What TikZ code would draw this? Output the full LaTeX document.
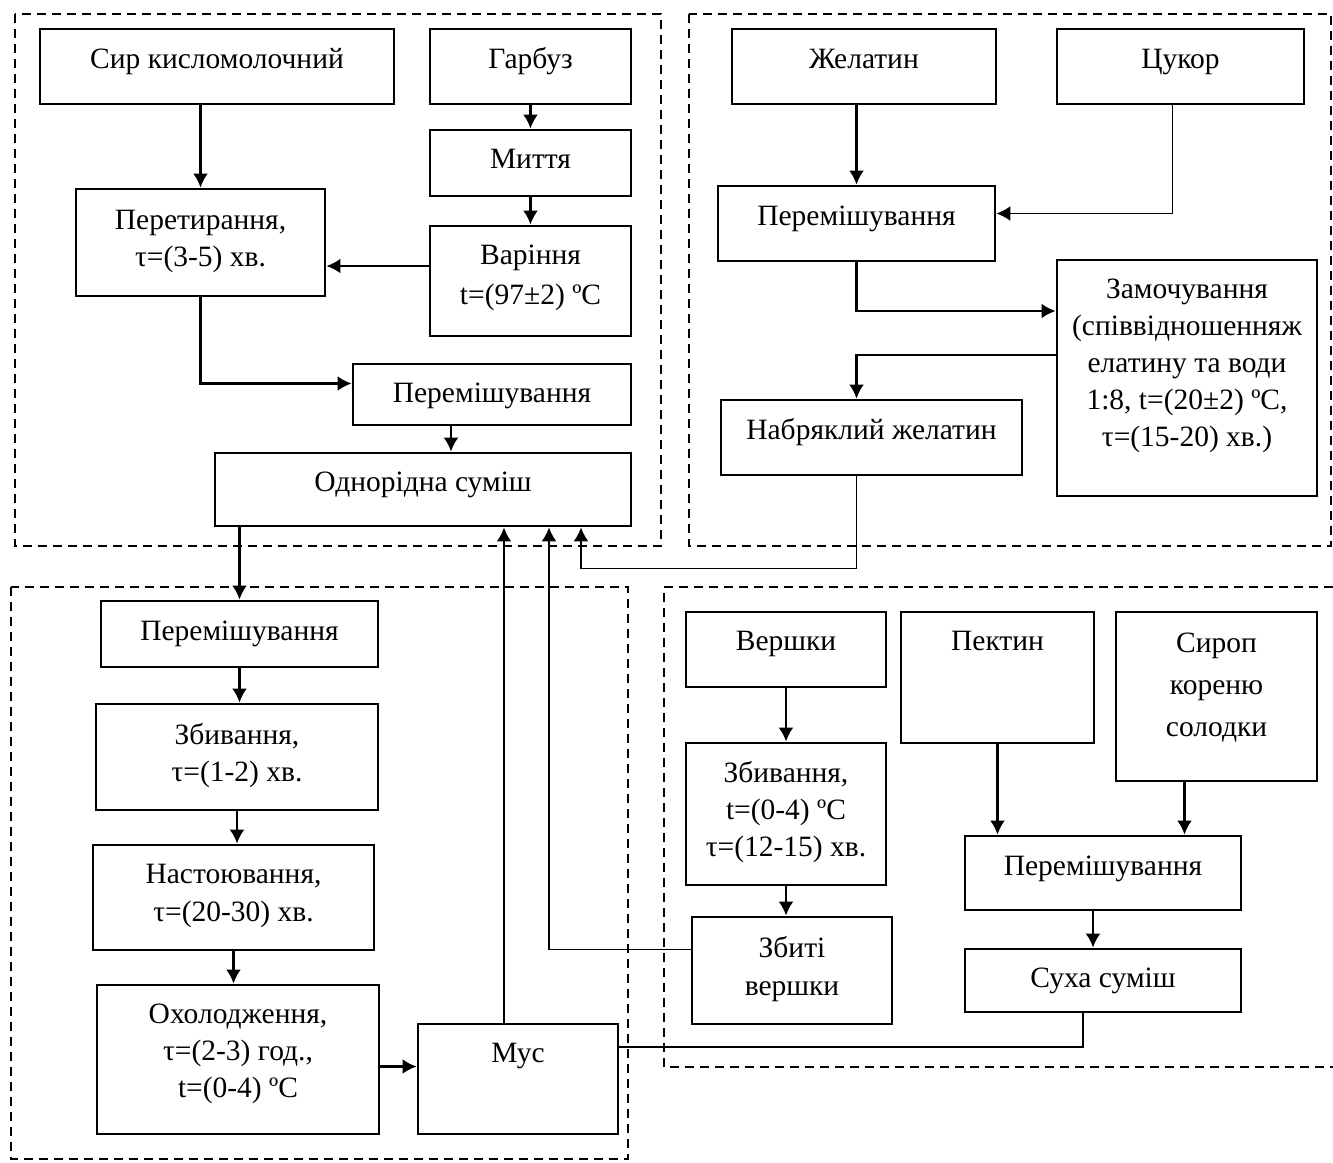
\documentclass[tikz,border=0pt]{standalone}
\usepackage{fontspec}
\setmainfont{Liberation Serif}
\usetikzlibrary{arrows.meta}

\begin{document}
\begin{tikzpicture}[x=1pt,y=-1pt,>={Latex[length=14pt,width=15pt]},
		blok/.style={draw,line width=2.8pt,align=center,inner sep=0pt,text height=21pt,font=\fontsize{29.5}{37}\selectfont},
		arr/.style={->,line width=2.6pt},
		lin/.style={line width=1.8pt},
		zona/.style={dash pattern=on 9pt off 6pt,line width=2.6pt}]
				\useasboundingbox (0,0) rectangle (1333,1162);

				% zones
				\draw[zona] (15,14) rectangle (661,546);
				\draw[zona] (689,14) rectangle (1331,546);
				\draw[zona] (11,587) rectangle (628,1159);
				\draw[zona] (1333,587) -- (664,587) -- (664,1067) -- (1333,1067);

				% top left
				\node[blok,minimum width=354pt,minimum height=75pt,text depth=18pt] (syr) at (217,66.5){Сир кисломолочний};
				\node[blok,minimum width=201pt,minimum height=75pt,text depth=18pt] (harbuz) at (530.5,66.5){Гарбуз};
				\node[blok,minimum width=201pt,minimum height=66pt,text depth=11pt] (myttia) at (530.5,163){Миття};
				\node[blok,minimum width=201pt,minimum height=110pt,text height=61pt,text depth=15pt] (varinnia) at (530.5,281){Варіння\\[3pt]t=(97±2) ºC};
				\node[blok,minimum width=249pt,minimum height=107pt,text height=58pt,text depth=11pt] (peret) at (200.5,242.5){Перетирання,\\τ=(3-5) хв.};
				\node[blok,minimum width=278pt,minimum height=61pt,text depth=6pt] (perem1) at (492,394.5){Перемішування};
				\node[blok,minimum width=416pt,minimum height=73pt,text depth=18pt] (odnor) at (423,489.5){Однорідна суміш};

				% top right
				\node[blok,minimum width=264pt,minimum height=75pt,text depth=18pt] (zhel) at (864,66.5){Желатин};
				\node[blok,minimum width=247pt,minimum height=75pt,text depth=18pt] (tsukor) at (1180.5,66.5){Цукор};
				\node[blok,minimum width=277pt,minimum height=75pt,text depth=18pt] (perem2) at (856.5,223.5){Перемішування};
				\node[blok,minimum width=260pt,minimum height=236pt,text height=169pt,text depth=33pt] (zamoch) at (1187,378){Замочування\\(співвідношенняж\\елатину та води\\1:8, t=(20±2) ºC,\\τ=(15-20) хв.)};
				\node[blok,minimum width=301pt,minimum height=75pt,text depth=18pt] (nabr) at (871.5,437.5){Набряклий желатин};

				% bottom left
				\node[blok,minimum width=277pt,minimum height=66pt,text depth=9pt] (perem3) at (239.5,634){Перемішування};
				\node[blok,minimum width=282pt,minimum height=106pt,text height=58pt,text depth=10pt] (zbyv1) at (237,757){Збивання,\\τ=(1-2) хв.};
				\node[blok,minimum width=281pt,minimum height=105pt,text height=59pt,text depth=12pt] (nast) at (233.5,897.5){Настоювання,\\[1pt]τ=(20-30) хв.};
				\node[blok,minimum width=282pt,minimum height=149pt,text height=95pt,text depth=20pt] (okhol) at (238,1059.5){Охолодження,\\τ=(2-3) год.,\\t=(0-4) ºC};
				\node[blok,minimum width=200pt,minimum height=110pt,text depth=55pt] (mus) at (518,1079){Мус};

				% bottom right
				\node[blok,minimum width=200pt,minimum height=75pt,text depth=20pt] (vershky) at (786,649.5){Вершки};
				\node[blok,minimum width=193pt,minimum height=131pt,text depth=76pt] (pektyn) at (997.5,677.5){Пектин};
				\node[blok,minimum width=201pt,minimum height=169pt,text height=105pt,text depth=26pt] (syrop) at (1216.5,696.5){Сироп\\[5pt]кореню\\[5pt]солодки};
				\node[blok,minimum width=200pt,minimum height=142pt,text height=95pt,text depth=11pt] (zbyv2) at (786,814){Збивання,\\t=(0-4) ºC\\τ=(12-15) хв.};
				\node[blok,minimum width=200pt,minimum height=107pt,text height=59pt,text depth=10pt] (zbyti) at (792,970.5){Збиті\\[1pt]вершки};
				\node[blok,minimum width=276pt,minimum height=74pt,text depth=17pt] (perem4) at (1103,873){Перемішування};
				\node[blok,minimum width=276pt,minimum height=63pt,text depth=8pt] (sukha) at (1103,980.5){Суха суміш};

				% arrows, top left
				\draw[arr] (syr.south -| peret.north) -- (peret.north);
				\draw[arr] (harbuz) -- (myttia);
				\draw[arr] (myttia) -- (varinnia);
				\draw[arr] ([yshift=15pt]varinnia.west) -- ([yshift=15pt]varinnia.west -| peret.east);
				\draw[arr] (peret.south) |- ([yshift=11pt]perem1.west);
				\draw[arr] ([xshift=-41pt]perem1.south) -- ([xshift=-41pt]perem1.south |- odnor.north);
				\draw[arr] (odnor.south -| perem3.north) -- (perem3.north);

				% arrows, top right
				\draw[arr] (zhel.south -| perem2.north) -- (perem2.north);
				\draw[lin,->] ([xshift=-8pt]tsukor.south) |- ([yshift=10pt]perem2.east);
				\draw[arr] (perem2.south) |- ([yshift=67pt]zamoch.west);
				\draw[arr] ([yshift=23pt]zamoch.west) -| ([xshift=-15pt]nabr.north);
				\draw[lin,->] ([xshift=-15pt]nabr.south) -- ++(0,92) -| ([xshift=158pt]odnor.south);

				% arrows, bottom left
				\draw[arr] (perem3.south) -- (perem3.south |- zbyv1.north);
				\draw[arr] (zbyv1.south) -- (zbyv1.south |- nast.north);
				\draw[arr] (nast.south) -- (nast.south |- okhol.north);
				\draw[arr] ([yshift=-7pt]okhol.east) -- ([yshift=-7pt]okhol.east -| mus.west);
				\draw[arr] ([xshift=-14pt]mus.north) -- ([xshift=-14pt]mus.north |- odnor.south);

				% arrows, bottom right
				\draw[arr] (vershky) -- (zbyv2);
				\draw[arr] (zbyv2.south) -- (zbyv2.south |- zbyti.north);
				\draw[arr] (pektyn.south) -- (pektyn.south |- perem4.north);
				\draw[arr] ([xshift=-32pt]syrop.south) -- ([xshift=-32pt]syrop.south |- perem4.north);
				\draw[arr] ([xshift=-10pt]perem4.south) -- ([xshift=-10pt]sukha.north);
				\draw[lin,->] ([yshift=21pt]zbyti.west) -| ([xshift=126pt]odnor.south);
				\draw[lin] ([xshift=-20pt]sukha.south) |- ([yshift=32pt]mus.east);
			\end{tikzpicture}
\end{document}
